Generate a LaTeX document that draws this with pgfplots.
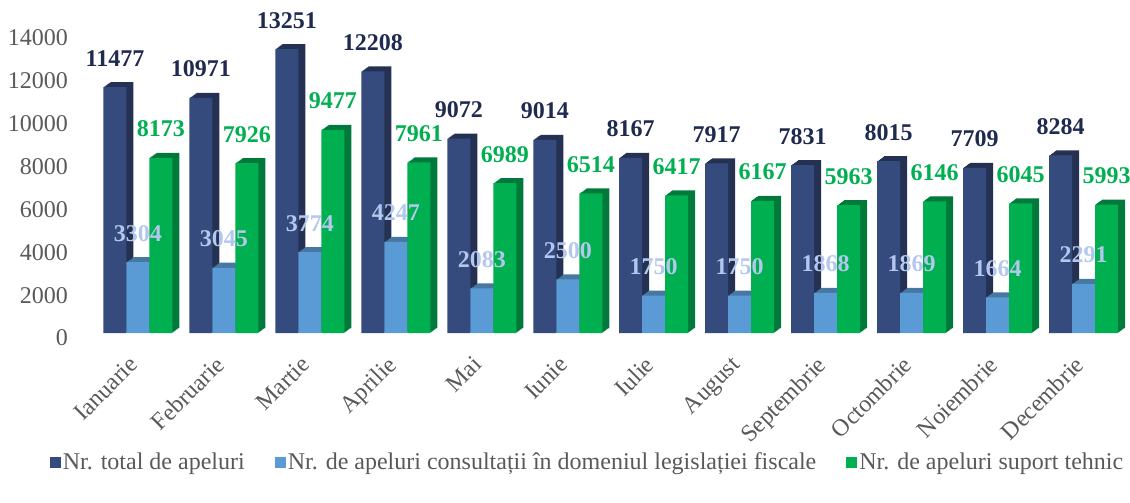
\documentclass[border=0pt]{standalone}
\usepackage{fontspec}
\setmainfont{Liberation Serif}
\usepackage{pgfplots}
\pgfplotsset{compat=1.18}
\usepackage{pgfplotstable}

\definecolor{cTot}{HTML}{364B7D}
\definecolor{cTotS}{HTML}{243152}
\definecolor{cCon}{HTML}{5B9BD5}
\definecolor{cConS}{HTML}{4777A3}
\definecolor{cTeh}{HTML}{00B050}
\definecolor{cTehS}{HTML}{00793A}
\definecolor{cTotL}{HTML}{1F2A50}
\definecolor{cConL}{HTML}{B4C7EE}
\definecolor{cTehL}{HTML}{00B050}
\definecolor{tickgray}{HTML}{595959}

\pgfplotstableread{
x total consult tehnic
0 11477 3304 8173
1 10971 3045 7926
2 13251 3774 9477
3 12208 4247 7961
4 9072 2083 6989
5 9014 2500 6514
6 8167 1750 6417
7 7917 1750 6167
8 7831 1868 5963
9 8015 1869 6146
10 7709 1664 6045
11 8284 2291 5993
}\data

\pgfplotsset{
  sqlegend/.style={legend image code/.code={\fill[##1] (0pt,-5.5pt) rectangle (11pt,5.5pt);}},
  lab/.style={draw=none, fill=none, forget plot, nodes near coords,
    every node near coord/.append style={font=\fontsize{24}{29}\selectfont\bfseries, text=#1, anchor=base, yshift=21pt}},
}
% extrusion (3D depth) of a bar series: colour, base shift, column
\newcommand\ext[3]{%
  \addplot[draw=none, fill=#1, bar shift=#2+7pt, yshift=5pt, forget plot] table[x=x,y=#3]{\data};
  \addplot[draw=none, fill=#1, bar shift=#2+6pt, yshift=4.3pt, forget plot] table[x=x,y=#3]{\data};
  \addplot[draw=none, fill=#1, bar shift=#2+5pt, yshift=3.6pt, forget plot] table[x=x,y=#3]{\data};
  \addplot[draw=none, fill=#1, bar shift=#2+4pt, yshift=2.9pt, forget plot] table[x=x,y=#3]{\data};
  \addplot[draw=none, fill=#1, bar shift=#2+3pt, yshift=2.1pt, forget plot] table[x=x,y=#3]{\data};
  \addplot[draw=none, fill=#1, bar shift=#2+2pt, yshift=1.4pt, forget plot] table[x=x,y=#3]{\data};
  \addplot[draw=none, fill=#1, bar shift=#2+1pt, yshift=0.7pt, forget plot] table[x=x,y=#3]{\data};
}

\begin{document}
\fontsize{24}{29}\selectfont
\begin{tikzpicture}
\begin{axis}[
  at={(0,0)}, anchor=south west,
  scale only axis, width=1031.5pt, height=300pt,
  xmin=-0.5, xmax=11.5, ymin=0, ymax=14000,
  ybar, bar width=23pt,
  axis line style={draw=none}, major tick style={draw=none},
  xtick={0,...,11},
  xticklabels={Ianuarie,Februarie,Martie,Aprilie,Mai,Iunie,Iulie,August,Septembrie,Octombrie,Noiembrie,Decembrie},
  ytick={0,2000,...,14000},
  clip=false,
  tick label style={text=tickgray, font=\fontsize{24}{29}\selectfont},
  yticklabel style={xshift=-19pt, yshift=-5pt},
  xticklabel style={xshift=-10pt, yshift=4pt, rotate=45, anchor=north east},
  xticklabel shift=10pt,
  /pgf/number format/assume math mode=true,
  /pgf/number format/1000 sep={},
  scaled y ticks=false,
  legend style={at={(0.4775,-0.433)}, anchor=center, draw=none, fill=none,
    legend columns=3, font=\fontsize{24}{29}\selectfont, text=tickgray,
    /tikz/every even column/.append style={column sep=28pt},
    nodes={inner sep=2pt}},
]
\ext{cTotS}{-23pt}{total}
\addplot[draw=none, fill=cTot, bar shift=-23pt, sqlegend] table[x=x,y=total]{\data};
\addlegendentry{Nr. total de apeluri}
\ext{cConS}{0pt}{consult}
\addplot[draw=none, fill=cCon, bar shift=0pt, sqlegend] table[x=x,y=consult]{\data};
\addlegendentry{Nr. de apeluri consultații în domeniul legislației fiscale}
\ext{cTehS}{23pt}{tehnic}
\addplot[draw=none, fill=cTeh, bar shift=23pt, sqlegend] table[x=x,y=tehnic]{\data};
\addlegendentry{Nr. de apeluri suport tehnic}
\addplot[lab=cTotL, bar shift=-23pt] table[x=x,y=total]{\data};
\addplot[lab=cConL, bar shift=0pt] table[x=x,y=consult]{\data};
\addplot[lab=cTehL, bar shift=23pt] table[x=x,y=tehnic]{\data};
\end{axis}
\pgfresetboundingbox
\path (-95pt,-170pt) rectangle (1035pt,333pt);
\end{tikzpicture}
\end{document}
